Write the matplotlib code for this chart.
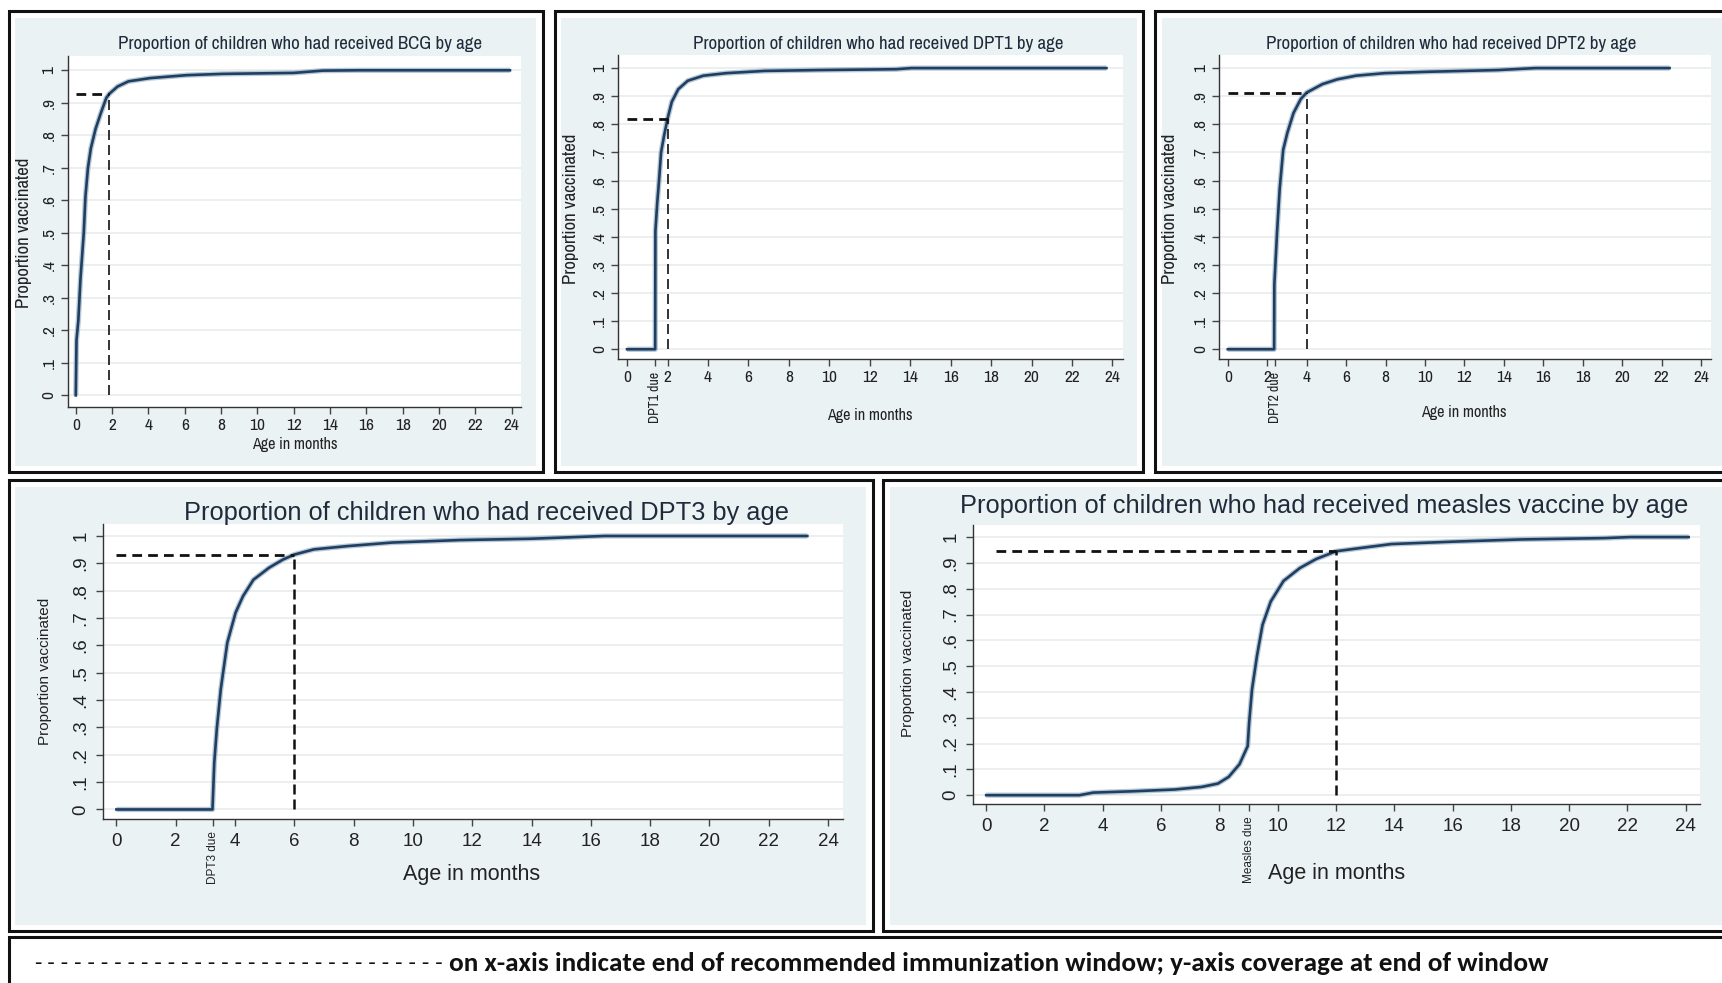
import matplotlib
matplotlib.use("Agg")
import matplotlib.pyplot as plt
from matplotlib.patches import Rectangle

# coverage curves: age in months vs proportion vaccinated
bcg_age = [0, 0.04, 0.14, 0.26, 0.44, 0.53, 0.67, 0.83, 1.09, 1.39, 1.68, 1.85, 2.3, 2.9, 4.1, 6.1, 8.1, 12.0, 13.6, 15.6, 23.9]
bcg_prop = [0, 0.17, 0.23, 0.36, 0.50, 0.61, 0.70, 0.76, 0.82, 0.87, 0.915, 0.928, 0.95, 0.966, 0.976, 0.985, 0.989, 0.992, 0.999, 1.0, 1.0]

dpt1_age = [0, 1.39, 1.40, 1.49, 1.58, 1.68, 1.83, 2.0, 2.21, 2.53, 3.0, 3.77, 4.9, 6.8, 9.5, 13.3, 14.06, 23.7]
dpt1_prop = [0, 0, 0.42, 0.52, 0.60, 0.70, 0.76, 0.82, 0.88, 0.925, 0.955, 0.973, 0.982, 0.99, 0.993, 0.996, 1.0, 1.0]

dpt2_age = [0, 2.35, 2.36, 2.5, 2.63, 2.81, 3.02, 3.33, 3.7, 4.0, 4.8, 5.55, 6.5, 7.96, 10.2, 13.7, 15.6, 22.4]
dpt2_prop = [0, 0, 0.23, 0.42, 0.57, 0.71, 0.77, 0.84, 0.89, 0.913, 0.943, 0.96, 0.973, 0.982, 0.987, 0.993, 1.0, 1.0]

dpt3_age = [0, 3.24, 3.3, 3.39, 3.52, 3.61, 3.74, 4.02, 4.27, 4.62, 5.15, 5.62, 6.0, 6.66, 7.79, 9.3, 11.57, 14.0, 16.47, 23.3]
dpt3_prop = [0, 0, 0.17, 0.30, 0.44, 0.51, 0.61, 0.72, 0.78, 0.84, 0.884, 0.914, 0.932, 0.951, 0.963, 0.976, 0.985, 0.99, 1.0, 1.0]

measles_age = [0, 3.2, 3.67, 5.0, 6.46, 7.39, 7.95, 8.32, 8.69, 8.97, 9.02, 9.12, 9.29, 9.48, 9.76, 10.2, 10.76, 11.32, 12.0, 12.8, 13.9, 16.2, 18.4, 21.2, 22.1, 24.1]
measles_prop = [0, 0, 0.01, 0.015, 0.022, 0.032, 0.045, 0.071, 0.12, 0.19, 0.28, 0.41, 0.54, 0.66, 0.75, 0.83, 0.88, 0.915, 0.945, 0.957, 0.973, 0.983, 0.991, 0.996, 1.0, 1.0]

vaccines = ["BCG", "DPT1", "DPT2", "DPT3", "measles vaccine"]
due_labels = [None, "DPT1 due", "DPT2 due", "DPT3 due", "Measles due"]
due_ages = [None, 1.4, 2.37, 3.25, 9.0]
window_end = [1.85, 2.0, 4.0, 6.0, 12.0]
window_cov = [0.928, 0.82, 0.913, 0.932, 0.945]
hline_start = [0, 0, 0, 0, 0.35]
x_ticks = list(range(0, 25, 2))
y_ticks = [0, 0.1, 0.2, 0.3, 0.4, 0.5, 0.6, 0.7, 0.8, 0.9, 1.0]
y_ticklabels = ["0", ".1", ".2", ".3", ".4", ".5", ".6", ".7", ".8", ".9", "1"]

curves = [(bcg_age, bcg_prop), (dpt1_age, dpt1_prop), (dpt2_age, dpt2_prop),
          (dpt3_age, dpt3_prop), (measles_age, measles_prop)]

W, H = 1568.0, 895.0   # layout grid, scaled to the saved figure
BG = "#eaf2f3"
LINE = "#1f3f62"
TXT = "#1e2b3a"
NARROW = ["Archivo Narrow", "DejaVu Sans"]
WIDE = ["Liberation Sans", "DejaVu Sans"]

# frame boxes (left, top, right, bottom)
boxes = [(8, 10, 494, 430), (505, 10, 1041, 430), (1052, 10, 1600, 430),
         (8, 437, 795, 848), (804, 437, 1600, 848)]
# where x=0, x=24, y=0, y=1 fall
anchors = [(69, 466, 360, 64), (571, 1013, 318, 62), (1118, 1549, 318, 62),
           (106, 754, 737, 488), (898, 1535, 724, 489)]
title_pos = [(273, 40), (800, 40), (1321, 40), (443, 467), (1206, 461)]
xlab_pos = [(268, 405), (792, 378), (1333, 376), (429, 796), (1217, 795)]
ylab_pos = [(22, 212), (520, 190), (1065, 190), (41, 611), (827, 604)]

# font sizes: top row / bottom row
sizes = {
    "title": (13.6, 18.3),
    "tick": (12.5, 13.5),
    "xlabel": (11.6, 15.5),
    "ylabel": (13.5, 11),
    "due": (10, 8.5),
}
tick_pad = (3, 5)

fig = plt.figure(figsize=(17.22, 9.83), dpi=100)
fig.patch.set_facecolor("white")


def fx(x):
    return x / W


def fy(y):
    return 1 - y / H


XLIM = (-0.45, 24.5)
YLIM = (-0.035, 1.045)

for i in range(5):
    row = 0 if i < 3 else 1
    fam = NARROW if row == 0 else WIDE
    l, t, r, b = boxes[i]
    fig.patches.append(Rectangle((fx(l), fy(b)), fx(r - l), (b - t) / H, transform=fig.transFigure,
                                 facecolor="white", edgecolor="#111111", linewidth=2.2, zorder=-2))
    fig.patches.append(Rectangle((fx(l + 6), fy(b - 6)), fx(r - l - 12), (b - t - 12) / H,
                                 transform=fig.transFigure, facecolor=BG, edgecolor="none", zorder=-1))

    x0, x24, y0, y1 = anchors[i]
    sx = (x24 - x0) / 24.0
    sy = (y0 - y1)
    left = x0 + XLIM[0] * sx
    right = x0 + XLIM[1] * sx
    bottom = y0 - YLIM[0] * sy
    top = y0 - YLIM[1] * sy
    ax = fig.add_axes([fx(left), fy(bottom), fx(right - left), (bottom - top) / H])
    ax.set_facecolor("white")
    ax.set_xlim(*XLIM)
    ax.set_ylim(*YLIM)
    for s in ["top", "right"]:
        ax.spines[s].set_visible(False)
    for s in ["left", "bottom"]:
        ax.spines[s].set_color("#333333")
        ax.spines[s].set_linewidth(1.0)

    for yv in y_ticks:
        ax.axhline(yv, color="#e8ecec", linewidth=1.2, zorder=0)

    ages, props = curves[i]
    ax.plot(ages, props, color="#8aa4bc", linewidth=3.8, alpha=0.6, solid_capstyle="butt", zorder=2)
    ax.plot(ages, props, color=LINE, linewidth=1.9, zorder=3)

    ax.plot([hline_start[i], window_end[i]], [window_cov[i], window_cov[i]], color="#111111",
            linewidth=2.0, dashes=(3.5, 2.2), zorder=4)
    ax.plot([window_end[i], window_end[i]], [0, window_cov[i]], color="#111111",
            linewidth=1.2 if row == 0 else 1.8, dashes=(6, 3) if row == 0 else (4, 2), zorder=4)

    ticks = list(x_ticks)
    labels = [str(v) for v in x_ticks]
    if due_ages[i] is not None:
        ticks.append(due_ages[i])
        labels.append("")
    ax.set_xticks(ticks)
    ax.set_xticklabels(labels, color="#222222", family=fam, fontsize=sizes["tick"][row])
    ax.set_yticks(y_ticks)
    ax.set_yticklabels(y_ticklabels, color="#222222", rotation=90, va="center",
                       family=fam, fontsize=sizes["tick"][row])
    ax.tick_params(axis="both", direction="out", length=5, width=1, color="#444444",
                   pad=tick_pad[row])

    if due_ages[i] is not None:
        ax.annotate(due_labels[i], xy=(due_ages[i], 0), xycoords=("data", "axes fraction"),
                    xytext=(0, -9), textcoords="offset points", rotation=90, ha="center",
                    va="top", color="#222222", family=fam, fontsize=sizes["due"][row])

    tx, ty = title_pos[i]
    fig.text(fx(tx), fy(ty), "Proportion of children who had received %s by age" % vaccines[i],
             ha="center", va="center", color=TXT, family=fam, fontsize=sizes["title"][row])
    lx, ly = xlab_pos[i]
    fig.text(fx(lx), fy(ly), "Age in months", ha="center", va="center", color="#222222",
             family=fam, fontsize=sizes["xlabel"][row])
    yx, yy = ylab_pos[i]
    fig.text(fx(yx), fy(yy), "Proportion vaccinated", ha="center", va="center", rotation=90,
             color="#222222", family=fam, fontsize=sizes["ylabel"][row])

# note explaining the dashed reference lines
fig.patches.append(Rectangle((fx(8), fy(930)), fx(1600), (930 - 853) / H, transform=fig.transFigure,
                             facecolor="white", edgecolor="#111111", linewidth=2.2, zorder=-2))
fig.text(fx(28), fy(877), "-" * 31, ha="left", va="center", fontsize=16,
         family="DejaVu Sans Mono", color="#111111")
fig.text(fx(409), fy(877),
         "on x-axis indicate end of recommended immunization window; y-axis coverage at end of window",
         ha="left", va="center", family=["Carlito", "DejaVu Sans"], weight="bold", fontsize=19.6,
         color="#111111")

fig.savefig("out.png", dpi=100)
